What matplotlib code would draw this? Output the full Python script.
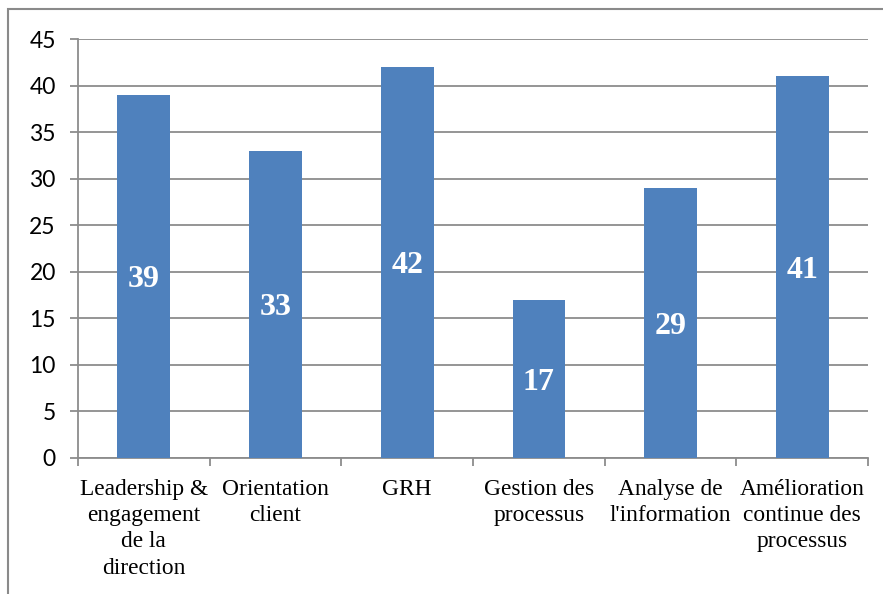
import matplotlib
matplotlib.use("Agg")
import matplotlib.pyplot as plt
from matplotlib.patches import Rectangle

# Data
categories = ["Leadership &\nengagement\nde la\ndirection", "Orientation\nclient", "GRH",
              "Gestion des\nprocessus", "Analyse de\nl'information",
              "Amélioration\ncontinue des\nprocessus"]
values = [39, 33, 42, 17, 29, 41]
y_ticks = [0, 5, 10, 15, 20, 25, 30, 35, 40, 45]

BAR_COLOR = '#4F81BD'
GRID_COLOR = '#8c8c8c'

fig = plt.figure(figsize=(8.83, 5.94), dpi=100)
ax = fig.add_axes([78 / 883, 136 / 594, 790 / 883, 419 / 594])

x = list(range(len(values)))
ax.bar(x, values, width=0.4, color=BAR_COLOR, zorder=3)

for xi, v in zip(x, values):
    ax.annotate(str(v), xy=(xi, v / 2), xytext=(0, -2.5), textcoords='offset points',
                ha='center', va='center', color='white',
                fontsize=23, fontweight='bold', family='Liberation Serif', zorder=4)

ax.set_xlim(-0.5, len(values) - 0.5)
ax.set_ylim(0, 45)
ax.set_yticks(y_ticks)
ax.set_yticklabels([str(t) for t in y_ticks], family='Lato', fontsize=16.5)
ax.yaxis.grid(True, color=GRID_COLOR, linewidth=1.3, zorder=0)

# category ticks between the bars
ax.set_xticks([i - 0.5 for i in range(len(values) + 1)])
ax.set_xticklabels([])
ax.set_xticks(x, minor=True)
ax.set_xticklabels(categories, minor=True, family='Liberation Serif', fontsize=16.8,
                   linespacing=1.33, multialignment='center')
ax.tick_params(axis='x', which='minor', length=0, pad=15)
ax.tick_params(axis='x', which='major', length=6, width=1.3, color=GRID_COLOR)
ax.tick_params(axis='y', length=6, width=1.3, color=GRID_COLOR, pad=10)

for side in ['top', 'right']:
    ax.spines[side].set_visible(False)
for side in ['left', 'bottom']:
    ax.spines[side].set_color(GRID_COLOR)
    ax.spines[side].set_linewidth(1.3)

# chart frame
fig.patches.append(Rectangle((8 / 883, -0.1), 1.2, 585 / 594 + 0.1,
                             transform=fig.transFigure, fill=False,
                             edgecolor='#8a8a8a', linewidth=1.5))

fig.savefig('out.png', dpi=100)
